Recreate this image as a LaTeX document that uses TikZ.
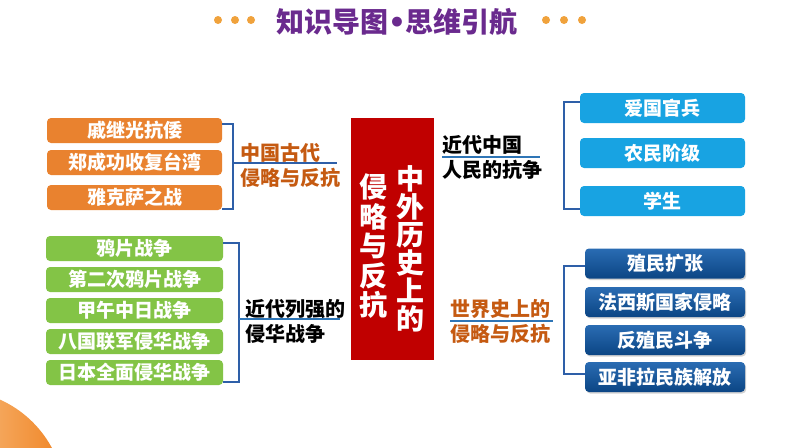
\documentclass[tikz,border=0pt]{standalone}
\usepackage{fontspec}
\setmainfont{Noto Sans CJK SC}
\newfontfamily\djv{DejaVu Sans}
\usetikzlibrary{shadows}
\definecolor{ttlpurple}{HTML}{6A2A8E}
\definecolor{dotorange}{HTML}{F0A23C}
\definecolor{boxorange}{HTML}{E9822F}
\definecolor{boxgreen}{HTML}{83C446}
\definecolor{boxcyan}{HTML}{18A3E2}
\definecolor{navytop}{HTML}{2A6CB3}
\definecolor{navybot}{HTML}{0B4584}
\definecolor{redbox}{HTML}{C00000}
\definecolor{txtorange}{HTML}{C55A11}
\definecolor{lineblue}{HTML}{2E5FA8}
\definecolor{ulblue}{HTML}{2E75B6}
\definecolor{circA}{HTML}{FFF3D6}
\definecolor{circB}{HTML}{F08424}
\begin{document}
\begin{tikzpicture}[x=1pt,y=-1pt,
  itembox/.style={rounded corners=4pt, text=white, font=\fontsize{19}{19}\selectfont\bfseries, inner sep=0pt, align=center},
  orbox/.style={itembox, fill=boxorange, minimum width=175pt, minimum height=25pt},
  grbox/.style={itembox, fill=boxgreen, minimum width=177pt, minimum height=25pt},
  cybox/.style={itembox, fill=boxcyan, minimum width=165pt, minimum height=30pt},
  nvbox/.style={itembox, top color=navytop, bottom color=navybot, minimum width=160pt, minimum height=30pt,
     drop shadow={opacity=0.35, shadow xshift=1.2pt, shadow yshift=-1.5pt}},
  cat/.style={font=\fontsize{20}{25}\selectfont\bfseries, align=left, inner sep=0pt, anchor=west},
  brk/.style={draw=lineblue, line width=1.1pt},
  ul/.style={draw=ulblue, line width=1.3pt},
  dot/.style={circle, fill=dotorange, minimum size=8pt, inner sep=0pt},
  vtxt/.style={text=white, font=\bfseries, align=center, text width=30pt, inner sep=0pt}
]
\useasboundingbox (0,0) rectangle (794,447);
\fill[white] (0,0) rectangle (794,447);
% bottom-left gradient circle
\begin{scope}
  \clip (0,0) rectangle (794,447);
  \shade[left color=circA, right color=circB] (-45,500) circle (110);
\end{scope}
% title
\node[font=\fontsize{28}{28}\selectfont\bfseries, text=ttlpurple, inner sep=0pt] (title) at (397,22) {知识导图{\djv\bfseries •}思维引航};
\node[dot] (d1) at (218,20) {};
\node[dot] (d2) at (235,20) {};
\node[dot] (d3) at (251,20) {};
\node[dot] (d4) at (546,20) {};
\node[dot] (d5) at (564,20) {};
\node[dot] (d6) at (582,20) {};
% centre
\node[fill=redbox, minimum width=83pt, minimum height=242pt, inner sep=0pt] (center) at (392.5,239) {};
\node[vtxt, font=\fontsize{28}{28}\selectfont\bfseries] (c1) at (410,249) {中\\外\\历\\史\\上\\的};
\node[vtxt, font=\fontsize{28}{29.5}\selectfont\bfseries] (c2) at (373,246.5) {侵\\略\\与\\反\\抗};
% left top
\node[orbox] (o1) at (134.5,130.5) {戚继光抗倭};
\node[orbox] (o2) at (134.5,162.5) {郑成功收复台湾};
\node[orbox] (o3) at (134.5,197.5) {雅克萨之战};
\coordinate (lt1) at (222,124);
\coordinate (lt2) at (222,209);
\coordinate (ltm) at (233,163);
\coordinate (lte) at (337,163);
\draw[brk] (lt1) -| (ltm) |- (lt2);
\draw[brk] (ltm) -- (lte);
\node[cat, text=txtorange] (catA) at (240,165.5) {中国古代\\侵略与反抗};
% left bottom
\node[grbox] (g1) at (134.5,248.5) {鸦片战争};
\node[grbox] (g2) at (134.5,279.5) {第二次鸦片战争};
\node[grbox] (g3) at (134.5,310.5) {甲午中日战争};
\node[grbox] (g4) at (134.5,341.5) {八国联军侵华战争};
\node[grbox] (g5) at (134.5,372.5) {日本全面侵华战争};
\coordinate (lb1) at (223,243);
\coordinate (lb2) at (223,382);
\coordinate (lbm) at (239,319);
\coordinate (lbe) at (340,319);
\draw[brk] (lb1) -| (lbm) |- (lb2);
\draw[ul] (lbm) -- (lbe);
\node[cat, text=black] (catB) at (245,321.5) {近代列强的\\侵华战争};
% right top
\node[cybox] (b1) at (662.5,108) {爱国官兵};
\node[cybox] (b2) at (662.5,153) {农民阶级};
\node[cybox] (b3) at (662.5,201) {学生};
\coordinate (rt1) at (580,102);
\coordinate (rt2) at (580,209);
\coordinate (rtc) at (564,150);
\draw[brk] (rt1) -| (rtc) |- (rt2);
\coordinate (ul1a) at (442,157);
\coordinate (ul1b) at (540,157);
\draw[ul] (ul1a) -- (ul1b);
\node[cat, text=black] (catC) at (442,157.5) {近代中国\\人民的抗争};
% right bottom
\node[nvbox] (n1) at (665,263.5) {殖民扩张};
\node[nvbox] (n2) at (665,302) {法西斯国家侵略};
\node[nvbox] (n3) at (665,340) {反殖民斗争};
\node[nvbox] (n4) at (665,377) {亚非拉民族解放};
\coordinate (rb1) at (585,266);
\coordinate (rb2) at (585,374);
\coordinate (rbc) at (564,320);
\draw[brk] (rb1) -| (rbc) |- (rb2);
\coordinate (ul2a) at (450,321);
\coordinate (ul2b) at (553,321);
\draw[ul] (ul2a) -- (ul2b);
\node[cat, text=txtorange] (catD) at (450,321.5) {世界史上的\\侵略与反抗};
\end{tikzpicture}
\end{document}
